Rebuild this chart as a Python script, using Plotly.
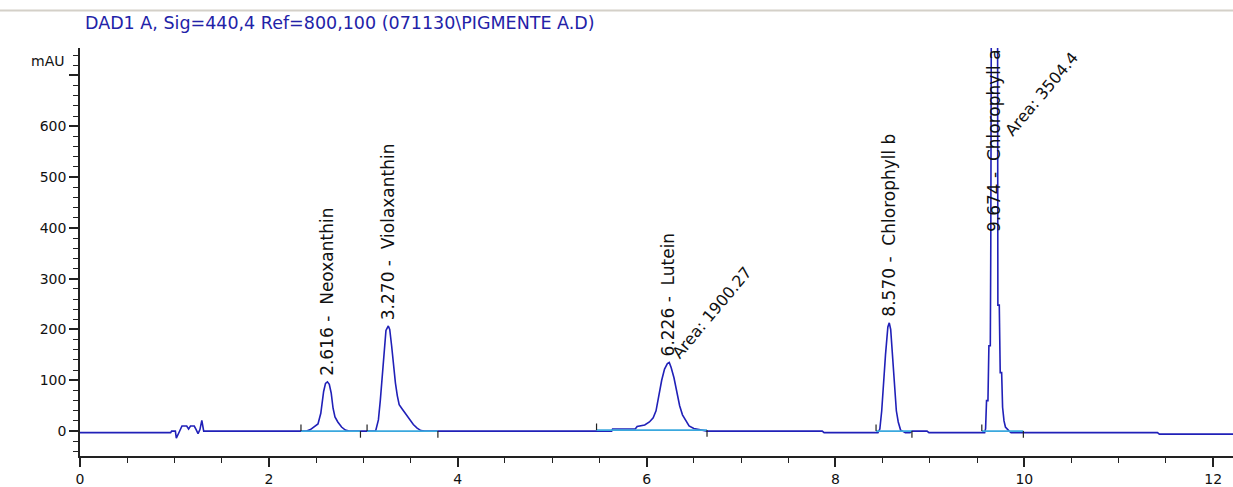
import plotly.graph_objects as go

# ---------------- data ----------------
time_min = [
    0.00, 0.96, 0.97, 1.01, 1.02, 1.04, 1.06, 1.08, 1.13, 1.15, 1.17, 1.21, 1.23, 1.25, 1.27, 1.29, 1.31,
    2.40, 2.44, 2.48, 2.52, 2.55, 2.58, 2.60, 2.62, 2.64, 2.66, 2.68, 2.70, 2.73, 2.77, 2.81, 2.85,
    3.13, 3.16, 3.18, 3.20, 3.22, 3.24, 3.265, 3.28, 3.30, 3.32, 3.34, 3.36, 3.38, 3.41, 3.45, 3.49, 3.53, 3.57, 3.61, 3.65,
    5.63, 5.64, 5.88, 5.90, 5.98, 6.03, 6.07, 6.10, 6.13, 6.16, 6.19, 6.22, 6.24, 6.26, 6.29, 6.32, 6.35, 6.38, 6.41, 6.45, 6.50, 6.58, 6.64,
    7.86, 7.88, 8.45, 8.47, 8.49, 8.51, 8.53, 8.555, 8.57, 8.585, 8.605, 8.625, 8.645, 8.665, 8.69, 8.71, 8.74, 8.79, 8.81, 8.97, 8.99,
    9.58, 9.59, 9.60, 9.615, 9.625, 9.64, 9.645, 9.655, 9.715, 9.72, 9.735, 9.745, 9.76, 9.77, 9.785, 9.80, 9.84, 9.86,
    11.41, 11.43, 12.25,
]
signal_mau = [
    -3, -3, 0, 0, -14, -6, 4, 10, 10, 4, 10, 10, 3, -5, 3, 21, 0,
    0, 3, 8, 14, 35, 78, 94, 97, 92, 75, 45, 28, 18, 8, 2, 0,
    0, 22, 60, 110, 160, 198, 207, 200, 168, 128, 95, 70, 52, 44, 34, 23, 13, 6, 1, 0,
    0, 4, 4, 9, 12, 18, 26, 40, 70, 100, 122, 133, 135, 125, 105, 80, 50, 32, 22, 10, 5, 3, 0,
    0, -3, -3, 4, 40, 100, 150, 205, 213, 200, 140, 80, 40, 18, 2, 0, -3, -3, 0, 0, -3,
    -3, 5, 60, 60, 168, 168, 365, 1150, 1150, 248, 248, 115, 115, 47, 20, 8, 0, -3,
    -3, -6, -6,
]

# peak table
peak_rt = [2.616, 3.270, 6.226, 8.570, 9.674]
peak_name = ["Neoxanthin", "Violaxanthin", "Lutein", "Chlorophyll b", "Chlorophyll a"]
peak_label_y = [97, 207, 135, 213, 380]
area_rt = [6.20, 9.72]
area_value = ["1900.27", "3504.4"]
area_label_y = [131, 568]

# integration baselines (start, end, level)
integ_start = [2.34, 3.04, 5.47, 8.43, 9.55]
integ_end = [2.97, 3.79, 6.64, 8.81, 9.99]
integ_level = [0, 0, 2, 0, 0]

y_major = [0, 100, 200, 300, 400, 500, 600, 700]
y_major_text = ["0", "100", "200", "300", "400", "500", "600", ""]
x_major = [0, 2, 4, 6, 8, 10, 12]

title_text = "DAD1 A, Sig=440,4 Ref=800,100 (071130\\PIGMENTE A.D)"

# ---------------- figure ----------------
FONT = "DejaVu Sans"
fig = go.Figure()

fig.add_trace(go.Scatter(
    x=time_min, y=signal_mau, mode="lines",
    line=dict(color="#2020b8", width=1.6), hoverinfo="skip", showlegend=False,
))

# cyan baselines
bx, by = [], []
for s, e, lv in zip(integ_start, integ_end, integ_level):
    bx += [s, e, None]
    by += [lv, lv, None]
fig.add_trace(go.Scatter(
    x=bx, y=by, mode="lines", line=dict(color="#3aa8de", width=1.8),
    hoverinfo="skip", showlegend=False,
))

# integration event ticks
tx, ty = [], []
for s, e, lv in zip(integ_start, integ_end, integ_level):
    tx += [s, s, None, e, e, None]
    ty += [lv, lv + 13, None, lv, lv - 13, None]
fig.add_trace(go.Scatter(
    x=tx, y=ty, mode="lines", line=dict(color="#222222", width=1.2),
    hoverinfo="skip", showlegend=False,
))

for rt, name, yv in zip(peak_rt, peak_name, peak_label_y):
    fig.add_annotation(
        x=rt, y=yv, xref="x", yref="y", text=f"{rt:.3f} -  {name}",
        textangle=-90, showarrow=False, xanchor="center", yanchor="bottom", yshift=4,
        font=dict(family=FONT, size=17, color="#111111"),
    )

for rt, av, yv in zip(area_rt, area_value, area_label_y):
    fig.add_annotation(
        x=rt, y=yv, xref="x", yref="y", text=f"Area: {av}",
        textangle=-50, showarrow=False, xanchor="left", yanchor="bottom",
        font=dict(family=FONT, size=16, color="#111111"),
    )

fig.add_annotation(
    x=0.003, y=1.061, xref="paper", yref="paper", text=title_text, showarrow=False,
    xanchor="left", yanchor="middle", font=dict(family=FONT, size=17.5, color="#2222a8"),
)
fig.add_annotation(
    x=0, y=728, xref="paper", yref="y", text="mAU", showarrow=False,
    xanchor="right", yanchor="middle", xshift=-14, font=dict(family=FONT, size=14, color="#111111"),
)

# thin grey separator at top
fig.add_shape(type="line", xref="paper", yref="paper", x0=-0.08, x1=1.0, y0=1.092, y1=1.092,
              line=dict(color="#d4d0c8", width=2))

fig.update_layout(
    width=1233, height=487,
    margin=dict(l=80, r=0, t=48, b=28),
    paper_bgcolor="white", plot_bgcolor="white",
    font=dict(family=FONT, size=14, color="#111111"),
    showlegend=False,
)
fig.update_xaxes(
    range=[0, 12.21], showgrid=False, zeroline=False,
    showline=True, linecolor="#222222", linewidth=1.5,
    tickmode="array", tickvals=x_major, ticks="outside", ticklen=9, tickwidth=1.5, tickcolor="#222222",
    minor=dict(tickmode="linear", tick0=0, dtick=0.5, ticklen=5, tickwidth=1.2, tickcolor="#222222", ticks="outside"),
    tickfont=dict(family=FONT, size=14, color="#111111"),
)
fig.update_yaxes(
    range=[-49, 754], showgrid=False, zeroline=False,
    showline=True, linecolor="#222222", linewidth=1.5,
    tickmode="array", tickvals=y_major, ticktext=y_major_text,
    ticks="outside", ticklen=9, tickwidth=1.5, tickcolor="#222222",
    minor=dict(tickmode="linear", tick0=0, dtick=20, ticklen=5, tickwidth=1.2, tickcolor="#222222", ticks="outside"),
    tickfont=dict(family=FONT, size=14, color="#111111"),
)

fig.write_html("out.html")
